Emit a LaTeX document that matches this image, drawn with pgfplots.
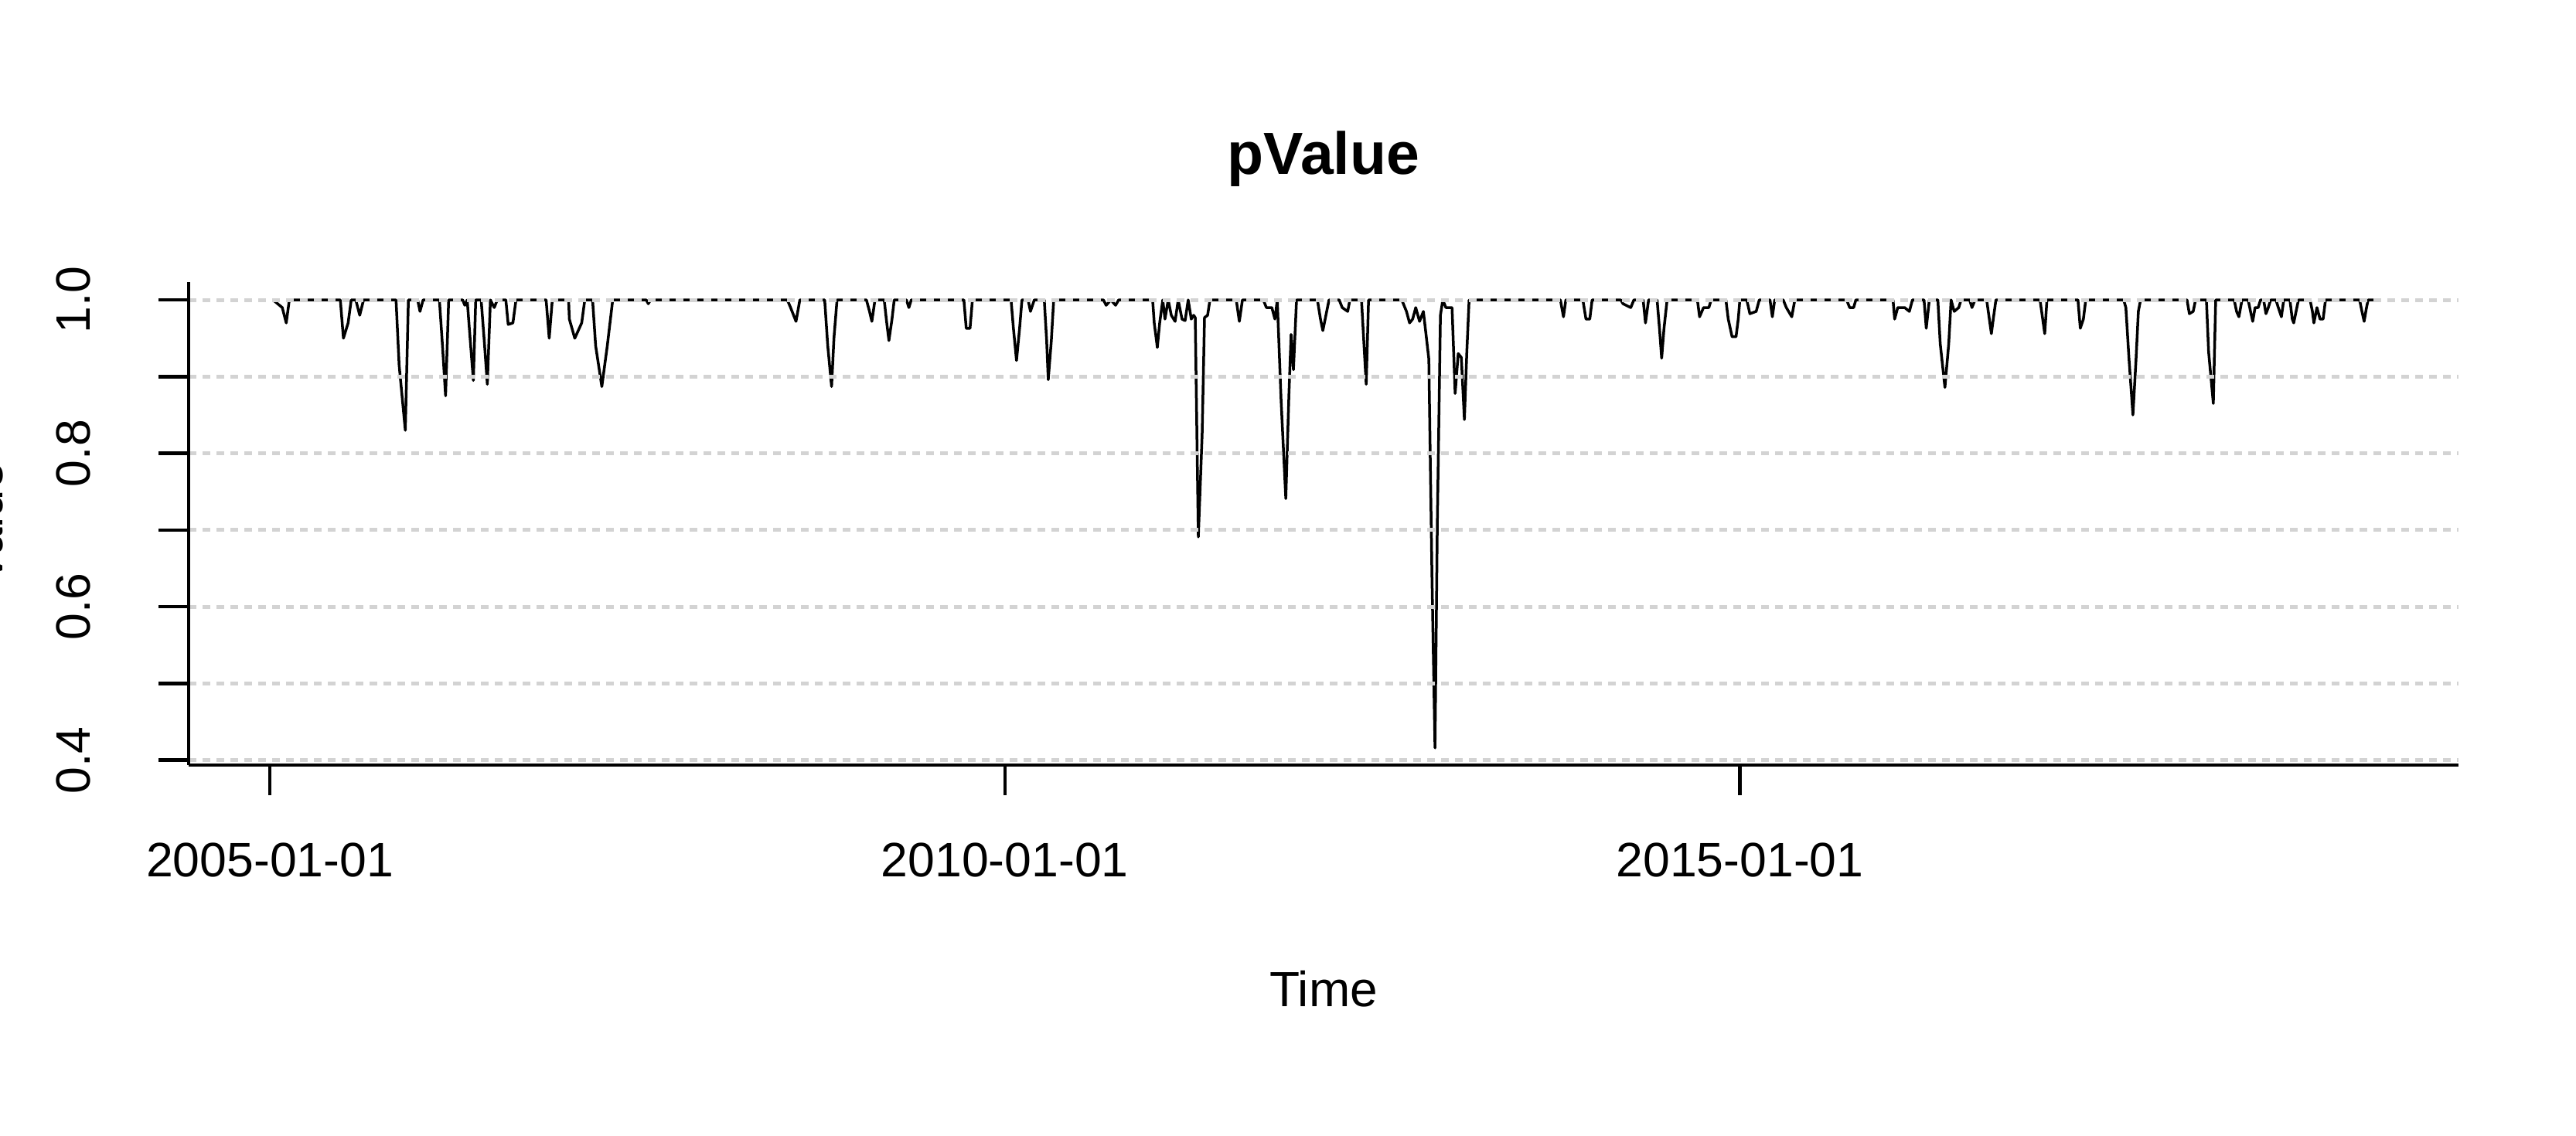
\documentclass[border=0pt]{standalone}
\usepackage{fontspec}
\setmainfont{Liberation Sans}
\usepackage{pgfplots}
\pgfplotsset{compat=1.18}
\definecolor{gridgray}{RGB}{211,211,211}
\begin{document}
\begin{tikzpicture}
\useasboundingbox (0,0) rectangle (33.32cm,14.7cm);
\begin{axis}[
  at={(2.44cm,4.80cm)}, anchor=south west,
  scale only axis, width=29.36cm, height=6.25cm,
  xmin=2004.447, xmax=2019.889, ymin=0.3937, ymax=1.0233,
  axis x line*=bottom, axis y line*=left,
  axis line style={line width=0.04cm, black},
  tick align=outside, major tick length=0.39cm,
  major tick style={line width=0.045cm, black},
  scaled ticks=false,
  xtick={2005,2010,2015}, xticklabels={2005-01-01,2010-01-01,2015-01-01},
  ytick={0.4,0.5,0.6,0.7,0.8,0.9,1.0}, yticklabels={0.4,,0.6,,0.8,,1.0},
  minor tick num=0,
  tick label style={font=\fontsize{17.8}{21}\selectfont},
  xticklabel style={anchor=north, inner sep=0pt, yshift=-0.61cm},
  yticklabel style={xshift=-0.87cm, rotate=90, anchor=south, inner sep=0pt},
  ymajorgrids,
  major grid style={draw=gridgray, line width=0.05cm, dash pattern=on 0.1cm off 0.08cm},
  axis on top,
  title={pValue},
  every axis title/.style={at={(axis description cs:0.5,1)}, anchor=base, yshift=1.39cm, font=\bfseries\fontsize{21.9}{26}\selectfont},
  xlabel={Time},
  every axis x label/.style={at={(axis description cs:0.5,0)}, anchor=base, yshift=-3.13cm, font=\fontsize{18.2}{22}\selectfont},
  ylabel={Value},
  every axis y label/.style={at={(axis description cs:-0.0820,0.5)}, rotate=90, anchor=base, font=\fontsize{18.2}{22}\selectfont},
]
\addplot[black, line width=0.035cm, line join=round] coordinates {
(2005.021,1)
(2005.084,0.99) (2005.111,0.97) (2005.132,1)
(2005.479,1) (2005.500,0.95) (2005.532,0.97) (2005.553,1)
(2005.584,1) (2005.611,0.98) (2005.637,1)
(2005.858,1) (2005.879,0.915) (2005.921,0.83) (2005.942,1)
(2006.005,1) (2006.021,0.985) (2006.042,1)
(2006.153,1) (2006.174,0.94) (2006.195,0.875) (2006.216,1)
(2006.311,1) (2006.326,0.993) (2006.342,1)
(2006.363,0.947) (2006.384,0.895) (2006.400,1)
(2006.437,1) (2006.458,0.947) (2006.479,0.89) (2006.500,1)
(2006.526,0.99) (2006.547,1)
(2006.605,1) (2006.621,0.968) (2006.653,0.97) (2006.674,1)
(2006.879,1) (2006.900,0.95) (2006.921,1)
(2007.032,1) (2007.037,0.975) (2007.074,0.95) (2007.121,0.97) (2007.142,1)
(2007.195,1) (2007.216,0.94) (2007.258,0.887) (2007.295,0.94) (2007.332,1)
(2007.560,1) (2007.574,0.995) (2007.590,1)
(2008.520,1) (2008.542,0.99) (2008.579,0.972) (2008.605,1)
(2008.774,1) (2008.795,0.94) (2008.821,0.887) (2008.837,0.95) (2008.858,1)
(2009.058,1) (2009.079,0.985) (2009.095,0.972) (2009.116,1)
(2009.179,1) (2009.195,0.972) (2009.211,0.947) (2009.232,0.975) (2009.247,1)
(2009.330,1) (2009.347,0.99) (2009.363,1)
(2009.721,1) (2009.737,0.963) (2009.763,0.963) (2009.779,1)
(2010.042,1) (2010.058,0.963) (2010.079,0.921) (2010.100,0.963) (2010.116,1)
(2010.158,1) (2010.174,0.985) (2010.200,1)
(2010.268,1) (2010.284,0.947) (2010.295,0.896) (2010.316,0.947) (2010.332,1)
(2010.670,1) (2010.689,0.993) (2010.721,1) (2010.753,0.993) (2010.774,1)
(2011.005,1) (2011.016,0.97) (2011.037,0.938) (2011.053,0.97) (2011.074,1) (2011.089,0.975) (2011.111,1) (2011.132,0.98) (2011.158,0.972) (2011.179,1) (2011.205,0.975) (2011.226,0.973) (2011.247,1) (2011.268,0.975) (2011.284,0.98) (2011.295,0.977) (2011.316,0.691) (2011.342,0.825) (2011.358,0.977) (2011.379,0.98) (2011.395,1)
(2011.574,1) (2011.595,0.972) (2011.616,1)
(2011.758,1) (2011.779,0.99) (2011.816,0.99) (2011.837,0.975) (2011.853,1)
(2011.879,0.869) (2011.911,0.741) (2011.932,0.875) (2011.947,0.955) (2011.963,0.909) (2011.984,1)
(2012.126,1) (2012.147,0.975) (2012.163,0.96) (2012.184,0.98) (2012.205,1)
(2012.274,1) (2012.295,0.99) (2012.332,0.985) (2012.347,1)
(2012.426,1) (2012.442,0.945) (2012.458,0.89) (2012.474,1)
(2012.700,1) (2012.732,0.985) (2012.753,0.97) (2012.774,0.975) (2012.795,0.99) (2012.821,0.972) (2012.847,0.985) (2012.868,0.95) (2012.884,0.923) (2012.905,0.644) (2012.926,0.416) (2012.942,0.711) (2012.963,0.98) (2012.979,1) (2013.000,0.99) (2013.042,0.99) (2013.063,0.878) (2013.084,0.93) (2013.105,0.925) (2013.126,0.844) (2013.142,0.93) (2013.158,1)
(2013.779,1) (2013.800,0.978) (2013.816,1)
(2013.932,1) (2013.953,0.975) (2013.979,0.975) (2013.995,1)
(2014.190,1) (2014.205,0.995) (2014.258,0.99) (2014.279,1)
(2014.342,1) (2014.358,0.97) (2014.379,1)
(2014.437,1) (2014.453,0.963) (2014.468,0.924) (2014.484,0.963) (2014.505,1)
(2014.711,1) (2014.726,0.978) (2014.753,0.99) (2014.789,0.99) (2014.805,1)
(2014.905,1) (2014.921,0.975) (2014.947,0.952) (2014.974,0.952) (2014.989,0.975) (2015.000,1)
(2015.047,1) (2015.068,0.982) (2015.111,0.985) (2015.132,1)
(2015.205,1) (2015.221,0.978) (2015.237,1)
(2015.295,1) (2015.316,0.99) (2015.353,0.978) (2015.374,1)
(2015.726,1) (2015.747,0.99) (2015.774,0.99) (2015.789,1)
(2016.042,1) (2016.053,0.975) (2016.074,0.99) (2016.121,0.99) (2016.153,0.985) (2016.174,1)
(2016.253,1) (2016.268,0.963) (2016.289,1)
(2016.347,1) (2016.363,0.943) (2016.395,0.886) (2016.421,0.943) (2016.437,1) (2016.458,0.985) (2016.489,0.99) (2016.505,1)
(2016.563,1) (2016.579,0.99) (2016.600,1)
(2016.679,1) (2016.695,0.978) (2016.711,0.956) (2016.726,0.978) (2016.742,1)
(2017.042,1) (2017.058,0.978) (2017.074,0.956) (2017.089,1)
(2017.300,1) (2017.316,0.963) (2017.337,0.975) (2017.353,1)
(2017.611,1) (2017.626,0.99) (2017.647,0.924) (2017.674,0.85) (2017.695,0.922) (2017.711,0.985) (2017.726,1)
(2018.042,1) (2018.058,0.982) (2018.084,0.985) (2018.100,1)
(2018.174,1) (2018.189,0.932) (2018.221,0.865) (2018.237,1)
(2018.363,1) (2018.379,0.985) (2018.395,0.978) (2018.416,1)
(2018.458,1) (2018.474,0.985) (2018.489,0.972) (2018.505,0.99) (2018.526,0.99) (2018.542,1)
(2018.563,1) (2018.579,0.982) (2018.595,0.99) (2018.611,1)
(2018.647,1) (2018.663,0.99) (2018.684,0.978) (2018.700,1)
(2018.742,1) (2018.758,0.975) (2018.768,0.97) (2018.784,0.985) (2018.800,1)
(2018.879,1) (2018.895,0.985) (2018.905,0.97) (2018.926,0.99) (2018.947,0.975) (2018.968,0.975) (2018.984,1)
(2019.216,1) (2019.232,0.985) (2019.247,0.972) (2019.263,0.99) (2019.274,1)
(2019.321,1)
};
\end{axis}
\end{tikzpicture}
\end{document}
